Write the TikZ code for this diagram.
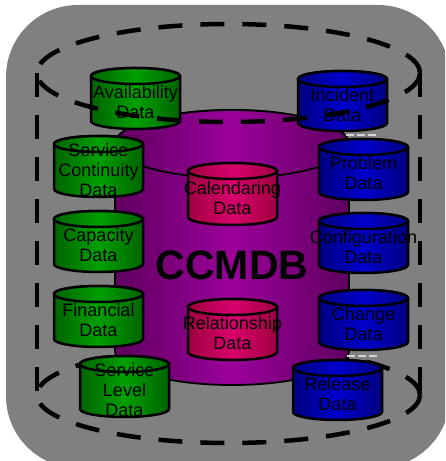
\documentclass[tikz,border=0pt]{standalone}
\usepackage{fontspec}
\setmainfont{Liberation Sans}
\definecolor{bggray}{HTML}{808080}
\definecolor{grnD}{HTML}{006400}
\definecolor{grnB}{HTML}{00A000}
\definecolor{bluD}{HTML}{000080}
\definecolor{bluB}{HTML}{0000CC}
\definecolor{redD}{HTML}{A00040}
\definecolor{redB}{HTML}{D8006C}
\definecolor{purD}{HTML}{600060}
\definecolor{purB}{HTML}{9A009A}
\definecolor{lightbit}{HTML}{D4D4D4}
\tikzset{
  canline/.style={draw=black, line width=2.5pt},
  canlabel/.style={font=\fontsize{18}{20}\selectfont, align=center, inner sep=0pt, text=black},
  bigdash/.style={draw=black, line width=4.5pt, dash pattern=on 24pt off 18pt},
  bitline/.style={draw=lightbit, line width=2.2pt, dash pattern=on 8pt off 3pt}
}
% #1 name, #2 x-left, #3 top (px from top), #4 width, #5 height, #6 dark, #7 bright, #8 text
\newcommand{\dbcan}[8]{%
  \pgfmathsetmacro{\cnx}{#2+#4/2}%
  \pgfmathsetmacro{\cnr}{#4/2}%
  \pgfmathsetmacro{\cnt}{461-#3-8}%
  \pgfmathsetmacro{\cnb}{461-#3-#5+8}%
  \pgfmathsetmacro{\cnm}{(\cnt+\cnb)/2-4}%
  \pgfmathsetmacro{\cnR}{#2+#4}%
  \draw[canline, left color=#6, right color=#6, middle color=#7]
    (#2,\cnt) -- (#2,\cnb) arc[start angle=180, end angle=360, x radius=\cnr pt, y radius=8pt]
    -- (\cnR,\cnt) arc[start angle=0, end angle=180, x radius=\cnr pt, y radius=8pt] -- cycle;
  \draw[canline, left color=#6, right color=#6, middle color=#7]
    (\cnx,\cnt) ellipse[x radius=\cnr pt, y radius=8pt];
  \node[canlabel] (#1) at (\cnx,\cnm) {#8};
}
\begin{document}
\begin{tikzpicture}[x=1pt,y=1pt]
\useasboundingbox (0,0) rectangle (445,461);
\clip (0,0) rectangle (445,461);
% background
\fill[bggray, rounded corners=72pt] (6,-7) rectangle (450,456);
% dashed outline: bottom ellipse and sides
\draw[bigdash] (228.5,66) ellipse[x radius=191.5pt, y radius=48pt];
\draw[bigdash] (37,388) -- (37,66);
\draw[bigdash] (420,388) -- (420,66);
% central CCMDB cylinder
\draw[draw=black, line width=1.8pt, left color=purD, right color=purD, middle color=purB]
  (115,317) -- (115,110) arc[start angle=180, end angle=360, x radius=117pt, y radius=34pt]
  -- (349,317) arc[start angle=0, end angle=180, x radius=117pt, y radius=34pt] -- cycle;
\draw[draw=black, line width=1.8pt, left color=purD, right color=purD, middle color=purB]
  (232,317) ellipse[x radius=117pt, y radius=34pt];
\node[font=\fontsize{41}{41}\selectfont\bfseries, inner sep=0pt] (ccmdb) at (232,196) {CCMDB};
% inner cylinders
\dbcan{calendaring}{188}{163}{89}{62}{redD}{redB}{Calendaring\\Data}
\dbcan{relationship}{188}{299}{89}{61}{redD}{redB}{Relationship\\Data}
% left column
\dbcan{availability}{91}{68}{89}{61}{grnD}{grnB}{Availability\\Data}
\dbcan{svccont}{54}{136}{89}{61}{grnD}{grnB}{Service\\Continuity\\Data}
\dbcan{capacity}{54}{211}{89}{61}{grnD}{grnB}{Capacity\\Data}
\dbcan{financial}{54}{286}{89}{61}{grnD}{grnB}{Financial\\Data}
\dbcan{svclevel}{80}{356}{89}{61}{grnD}{grnB}{Service\\Level\\Data}
% right column
\dbcan{incident}{298}{71}{89}{60}{bluD}{bluB}{Incident\\Data}
\dbcan{problem}{319}{139}{89}{61}{bluD}{bluB}{Problem\\Data}
\dbcan{config}{319}{213}{89}{60}{bluD}{bluB}{Configuration\\Data}
\dbcan{change}{319}{290}{89}{60}{bluD}{bluB}{Change\\Data}
\dbcan{release}{293}{360}{89}{60}{bluD}{bluB}{Release\\Data}
% light bits between cylinders
\coordinate (b1a) at (346,326);
\coordinate (b1b) at (377,326);
\coordinate (b2a) at (347,105);
\coordinate (b2b) at (377,105);
\draw[bitline] (b1a) -- (b1b);
\draw[bitline] (b2a) -- (b2b);
% dashed outline: top ellipse (on top)
\draw[bigdash] (228.5,388) ellipse[x radius=191.5pt, y radius=49pt];
\end{tikzpicture}
\end{document}
